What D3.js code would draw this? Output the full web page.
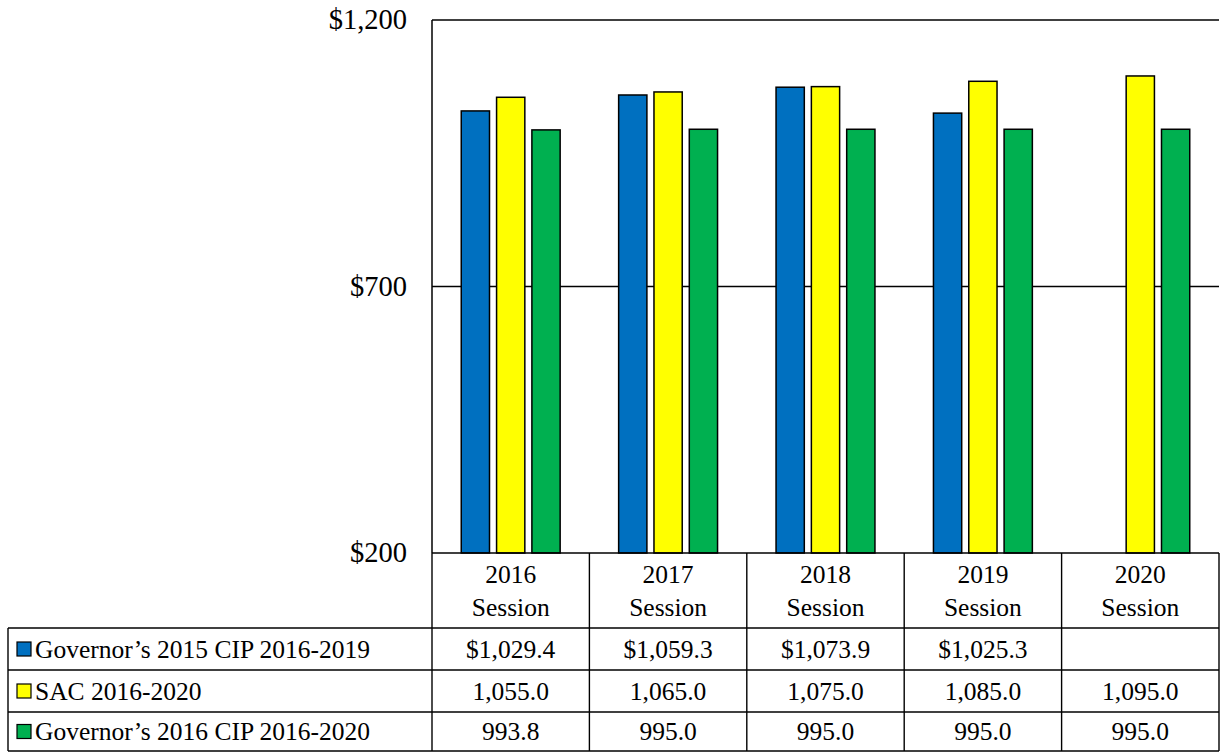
<!DOCTYPE html>
<html>
<head>
<meta charset="utf-8">
<script src="https://cdn.jsdelivr.net/npm/d3@7"></script>
<style>
  html, body { margin: 0; padding: 0; background: #fff; }
  svg { display: block; }
</style>
</head>
<body>
<svg id="chart" width="1222" height="752"></svg>
<script>
// ---- Data ----
const categories = ["2016 Session", "2017 Session", "2018 Session", "2019 Session", "2020 Session"];
const seriesNames = ["Governor\u2019s 2015 CIP 2016-2019", "SAC 2016-2020", "Governor\u2019s 2016 CIP 2016-2020"];
const gov2015 = [1029.4, 1059.3, 1073.9, 1025.3, null];
const sac = [1055.0, 1065.0, 1075.0, 1085.0, 1095.0];
const gov2016 = [993.8, 995.0, 995.0, 995.0, 995.0];
const yTicks = [200, 700, 1200];
const colors = ["#0070C0", "#FFFF00", "#00B050"];

const seriesValues = [gov2015, sac, gov2016];

// ---- Layout ----
const FONT = '"Liberation Serif", "Tinos", "Times New Roman", monospace';
const svg = d3.select("#chart");
const plot = { left: 432, right: 1219, top: 20, bottom: 553 };
const tableLeft = 8;
const headerBottom = 628;
const rowLines = [628, 670, 712, 751];
const fontSize = 25.5;
const tickFontSize = 28.5;

const x0 = d3.scaleBand().domain(categories).range([plot.left, plot.right]).padding(0);
const x1 = d3.scaleBand().domain(d3.range(seriesNames.length))
  .range([0, x0.bandwidth()]).paddingInner(0.2).paddingOuter(0.828);
const y = d3.scaleLinear().domain([200, 1200]).range([plot.bottom, plot.top]);

function addText(g, size) {
  return g.append("text").style("font-family", FONT)
    .style("font-size", (size || fontSize) + "px").attr("fill", "#000");
}

// gridlines
svg.append("g").selectAll("line").data(yTicks.filter(d => d !== 200)).join("line")
  .attr("x1", plot.left).attr("x2", plot.right)
  .attr("y1", d => y(d)).attr("y2", d => y(d))
  .attr("stroke", "#000").attr("stroke-width", 1.5);

// tick labels
const fmtTick = d => "$" + d3.format(",")(d);
const tickG = svg.append("g");
yTicks.forEach(d => {
  addText(tickG, tickFontSize).attr("x", 407).attr("y", y(d)).attr("dy", "0.33em")
    .attr("text-anchor", "end").text(fmtTick(d));
});

// bars
const barData = [];
categories.forEach((c, i) => {
  seriesValues.forEach((vals, s) => {
    if (vals[i] != null) barData.push({ cat: c, s: s, v: vals[i] });
  });
});
svg.append("g").selectAll("rect").data(barData).join("rect")
  .attr("x", d => x0(d.cat) + x1(d.s))
  .attr("width", x1.bandwidth())
  .attr("y", d => y(d.v))
  .attr("height", d => y(200) - y(d.v))
  .attr("fill", d => colors[d.s])
  .attr("stroke", "#000").attr("stroke-width", 1.5);

// axis line (left)
svg.append("line").attr("x1", plot.left).attr("x2", plot.left)
  .attr("y1", plot.top).attr("y2", plot.bottom)
  .attr("stroke", "#000").attr("stroke-width", 1.5);

// ---- Data table ----
const tg = svg.append("g");
const line = (x1_, y1_, x2_, y2_) => tg.append("line")
  .attr("x1", x1_).attr("y1", y1_).attr("x2", x2_).attr("y2", y2_)
  .attr("stroke", "#000").attr("stroke-width", 1.4);

line(plot.left, plot.bottom, plot.right, plot.bottom);
rowLines.forEach(yy => line(tableLeft, yy, plot.right, yy));
line(tableLeft, headerBottom, tableLeft, rowLines[rowLines.length - 1]);
const colEdges = categories.map(c => x0(c)).concat([plot.right]);
colEdges.forEach(xx => line(xx, plot.bottom, xx, rowLines[rowLines.length - 1]));

// header labels
categories.forEach(c => {
  const cx = x0(c) + x0.bandwidth() / 2;
  const parts = c.split(" ");
  addText(tg).attr("x", cx).attr("y", 583).attr("text-anchor", "middle").text(parts[0]);
  addText(tg).attr("x", cx).attr("y", 616).attr("text-anchor", "middle").text(parts[1]);
});

// rows
const fmtVal = d3.format(",.1f");
seriesNames.forEach((name, s) => {
  const top = rowLines[s], bot = rowLines[s + 1];
  const cy = (top + bot) / 2;
  tg.append("rect").attr("x", 17).attr("y", cy - 7).attr("width", 14).attr("height", 14)
    .attr("fill", colors[s]).attr("stroke", "#000").attr("stroke-width", 1.2);
  addText(tg).attr("x", 35).attr("y", cy).attr("dy", "0.34em").text(name);
  categories.forEach((c, i) => {
    const v = seriesValues[s][i];
    if (v == null) return;
    addText(tg).attr("x", x0(c) + x0.bandwidth() / 2).attr("y", cy).attr("dy", "0.34em")
      .attr("text-anchor", "middle")
      .text((s === 0 ? "$" : "") + fmtVal(v));
  });
});
</script>
</body>
</html>
